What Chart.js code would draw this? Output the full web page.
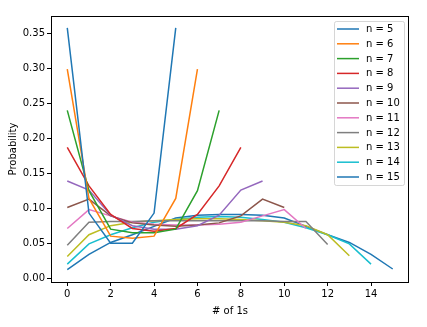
<!DOCTYPE html>
<html>
<head>
<meta charset="utf-8">
<script src="https://cdn.jsdelivr.net/npm/chart.js@4/dist/chart.umd.min.js"></script>
<style>
  html, body { margin: 0; padding: 0; background: #fff; }
  #wrap { width: 427px; height: 327px; }
</style>
</head>
<body>
<div id="wrap"><canvas id="probChart" width="427" height="327"></canvas></div>
<script>
// number of 1s -> probability, one array per n
const p5  = [0.358, 0.093, 0.050, 0.050, 0.093, 0.358];
const p6  = [0.299, 0.114, 0.060, 0.057, 0.060, 0.114, 0.299];
const p7  = [0.240, 0.125, 0.070, 0.065, 0.065, 0.070, 0.125, 0.240];
const p8  = [0.187, 0.132, 0.091, 0.071, 0.067, 0.071, 0.091, 0.132, 0.187];
const p9  = [0.139, 0.126, 0.090, 0.075, 0.070, 0.070, 0.075, 0.090, 0.126, 0.139];
const p10 = [0.101, 0.113, 0.089, 0.079, 0.076, 0.074, 0.076, 0.079, 0.089, 0.113, 0.101];
const p11 = [0.071, 0.098, 0.089, 0.080, 0.077, 0.076, 0.076, 0.077, 0.080, 0.089, 0.098, 0.071];
const p12 = [0.047, 0.080, 0.081, 0.081, 0.082, 0.082, 0.082, 0.082, 0.082, 0.082, 0.081, 0.081, 0.048];
const p13 = [0.031, 0.062, 0.075, 0.080, 0.082, 0.084, 0.085, 0.085, 0.084, 0.082, 0.080, 0.075, 0.062, 0.032];
const p14 = [0.020, 0.049, 0.062, 0.072, 0.080, 0.084, 0.087, 0.088, 0.087, 0.084, 0.080, 0.072, 0.062, 0.049, 0.020];
const p15 = [0.012, 0.034, 0.051, 0.062, 0.074, 0.086, 0.090, 0.091, 0.091, 0.090, 0.086, 0.074, 0.062, 0.051, 0.034, 0.013];

const seriesLabels = ['n = 5', 'n = 6', 'n = 7', 'n = 8', 'n = 9', 'n = 10', 'n = 11', 'n = 12', 'n = 13', 'n = 14', 'n = 15'];
const seriesValues = [p5, p6, p7, p8, p9, p10, p11, p12, p13, p14, p15];
const xTicks = [0, 2, 4, 6, 8, 10, 12, 14];
const yTicks = [0, 0.05, 0.10, 0.15, 0.20, 0.25, 0.30, 0.35];

// matplotlib tab10 cycle
const colors = ['#1f77b4', '#ff7f0e', '#2ca02c', '#d62728', '#9467bd', '#8c564b',
                '#e377c2', '#7f7f7f', '#bcbd22', '#17becf', '#1f77b4'];

const FONT = { family: '"DejaVu Sans", sans-serif', size: 10 };

// box around the plot + legend inside upper right
const frameAndLegend = {
  id: 'frameAndLegend',
  afterDraw(chart) {
    const c = chart.ctx;
    const a = chart.chartArea;
    c.save();
    c.strokeStyle = '#000';
    c.lineWidth = 1;
    c.strokeRect(Math.round(a.left) + 0.5, Math.round(a.top) + 0.5,
                 Math.round(a.right - a.left) - 1, Math.round(a.bottom - a.top));

    // legend
    const bx = 334, by = 21, bw = 70, bh = 164;
    c.fillStyle = 'rgba(255,255,255,0.8)';
    c.strokeStyle = 'rgba(204,204,204,0.8)';
    c.lineWidth = 1;
    c.beginPath();
    c.roundRect(bx + 0.5, by + 0.5, bw, bh, 2);
    c.fill();
    c.stroke();
    c.font = FONT.size + 'px ' + FONT.family;
    c.textBaseline = 'middle';
    c.fillStyle = '#000';
    chart.data.datasets.forEach((ds, i) => {
      const y = 29 + i * 14.8;
      c.strokeStyle = ds.borderColor;
      c.lineWidth = 1.5;
      c.beginPath();
      c.moveTo(337, y);
      c.lineTo(359, y);
      c.stroke();
      c.fillText(ds.label, 366, y + 0.5);
    });
    c.restore();
  }
};

const ctx = document.getElementById('probChart');
const probChart = new Chart(ctx, {
  type: 'line',
  data: {
    datasets: seriesValues.map((vals, i) => ({
      label: seriesLabels[i],
      data: vals.map((v, k) => ({ x: k, y: v })),
      borderColor: colors[i],
      backgroundColor: colors[i],
      borderWidth: 1.5,
      pointRadius: 0,
      tension: 0,
      fill: false
    }))
  },
  options: {
    responsive: false,
    animation: false,
    layout: { padding: { top: 16, right: 18, left: 0, bottom: 0 } },
    plugins: {
      legend: { display: false },
      tooltip: { enabled: false }
    },
    scales: {
      x: {
        type: 'linear',
        min: -0.75,
        max: 15.75,
        afterBuildTicks: (s) => { s.ticks = xTicks.map(v => ({ value: v })); },
        afterFit: (s) => { s.height = 45; },
        ticks: { color: '#000', font: FONT, padding: 2, maxRotation: 0 },
        grid: { display: true, drawOnChartArea: false, drawTicks: true, tickLength: 4, color: '#000' },
        border: { display: false },
        title: { display: true, text: '# of 1s', color: '#000', font: FONT, padding: { top: 0, bottom: 10 } }
      },
      y: {
        min: -0.0056,
        max: 0.375,
        afterBuildTicks: (s) => { s.ticks = yTicks.map(v => ({ value: v })); },
        afterFit: (s) => { s.width = 51; },
        ticks: { color: '#000', font: FONT, padding: 2, callback: (v) => v.toFixed(2) },
        grid: { display: true, drawOnChartArea: false, drawTicks: true, tickLength: 4, color: '#000' },
        border: { display: false },
        title: { display: true, text: 'Probability', color: '#000', font: FONT, padding: { top: 7, bottom: 0 } }
      }
    }
  },
  plugins: [frameAndLegend]
});
</script>
</body>
</html>
